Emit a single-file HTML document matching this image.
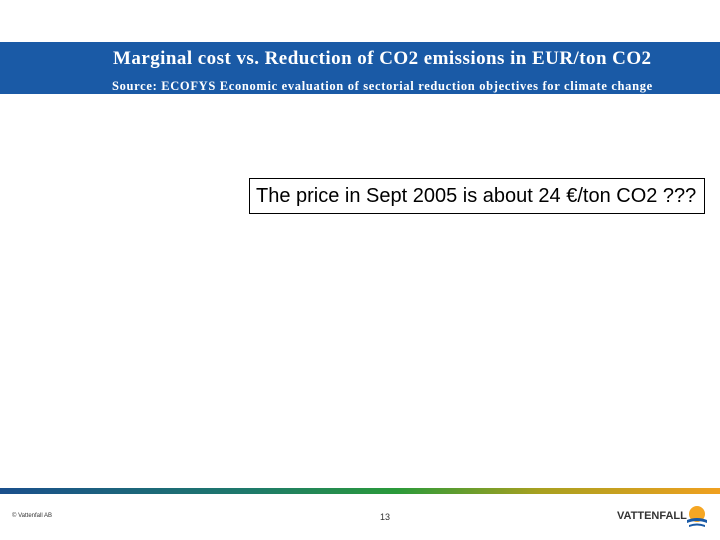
<!DOCTYPE html>
<html><head><meta charset="utf-8"><style>
body{margin:0;width:720px;height:540px;background:#fff;position:relative;overflow:hidden;font-family:"Liberation Sans",sans-serif}
div{position:absolute}
</style></head><body>
<div style="left:0;top:42px;width:720px;height:52px;background:#1a5aa6"></div>
<div style="left:113px;top:48px;font-family:'Liberation Serif',serif;font-size:19px;font-weight:bold;color:#fff;white-space:nowrap;letter-spacing:0.45px">Marginal cost vs. Reduction of CO2 emissions in EUR/ton CO2</div>
<div style="left:112px;top:79px;font-family:'Liberation Serif',serif;font-size:12.5px;font-weight:bold;color:#fff;white-space:nowrap;letter-spacing:0.67px">Source: ECOFYS Economic evaluation of sectorial reduction objectives for climate change</div>
<div style="left:249px;top:178px;height:34px;border:1px solid #000;font-size:20px;line-height:34px;text-align:left;padding-left:6px;width:448px;color:#000;white-space:nowrap">The price in Sept 2005 is about 24 €/ton CO2 ???</div>
<div style="left:0;top:488px;width:720px;height:6px;background:linear-gradient(to right,#1a4f8c,#1e7a6a 35%,#2a9a3a 55%,#a8a020 75%,#f0a020)"></div>
<div style="left:12px;top:513px;font-size:6px;color:#333">© Vattenfall AB</div>
<div style="left:380px;top:512px;font-size:9px;color:#333">13</div>
<div style="left:617px;top:510px;font-size:11px;font-weight:bold;color:#333">VATTENFALL</div>
<svg style="position:absolute;left:686px;top:505px" width="22" height="24"><circle cx="11" cy="9" r="8" fill="#f5a623"/><path d="M1 15 Q11 11 21 15 L21 18 Q11 14 1 18Z" fill="#1a5aa6"/><path d="M3 20 Q11 17 19 20 L19 22 Q11 19 3 22Z" fill="#1a5aa6"/></svg>
</body></html>
